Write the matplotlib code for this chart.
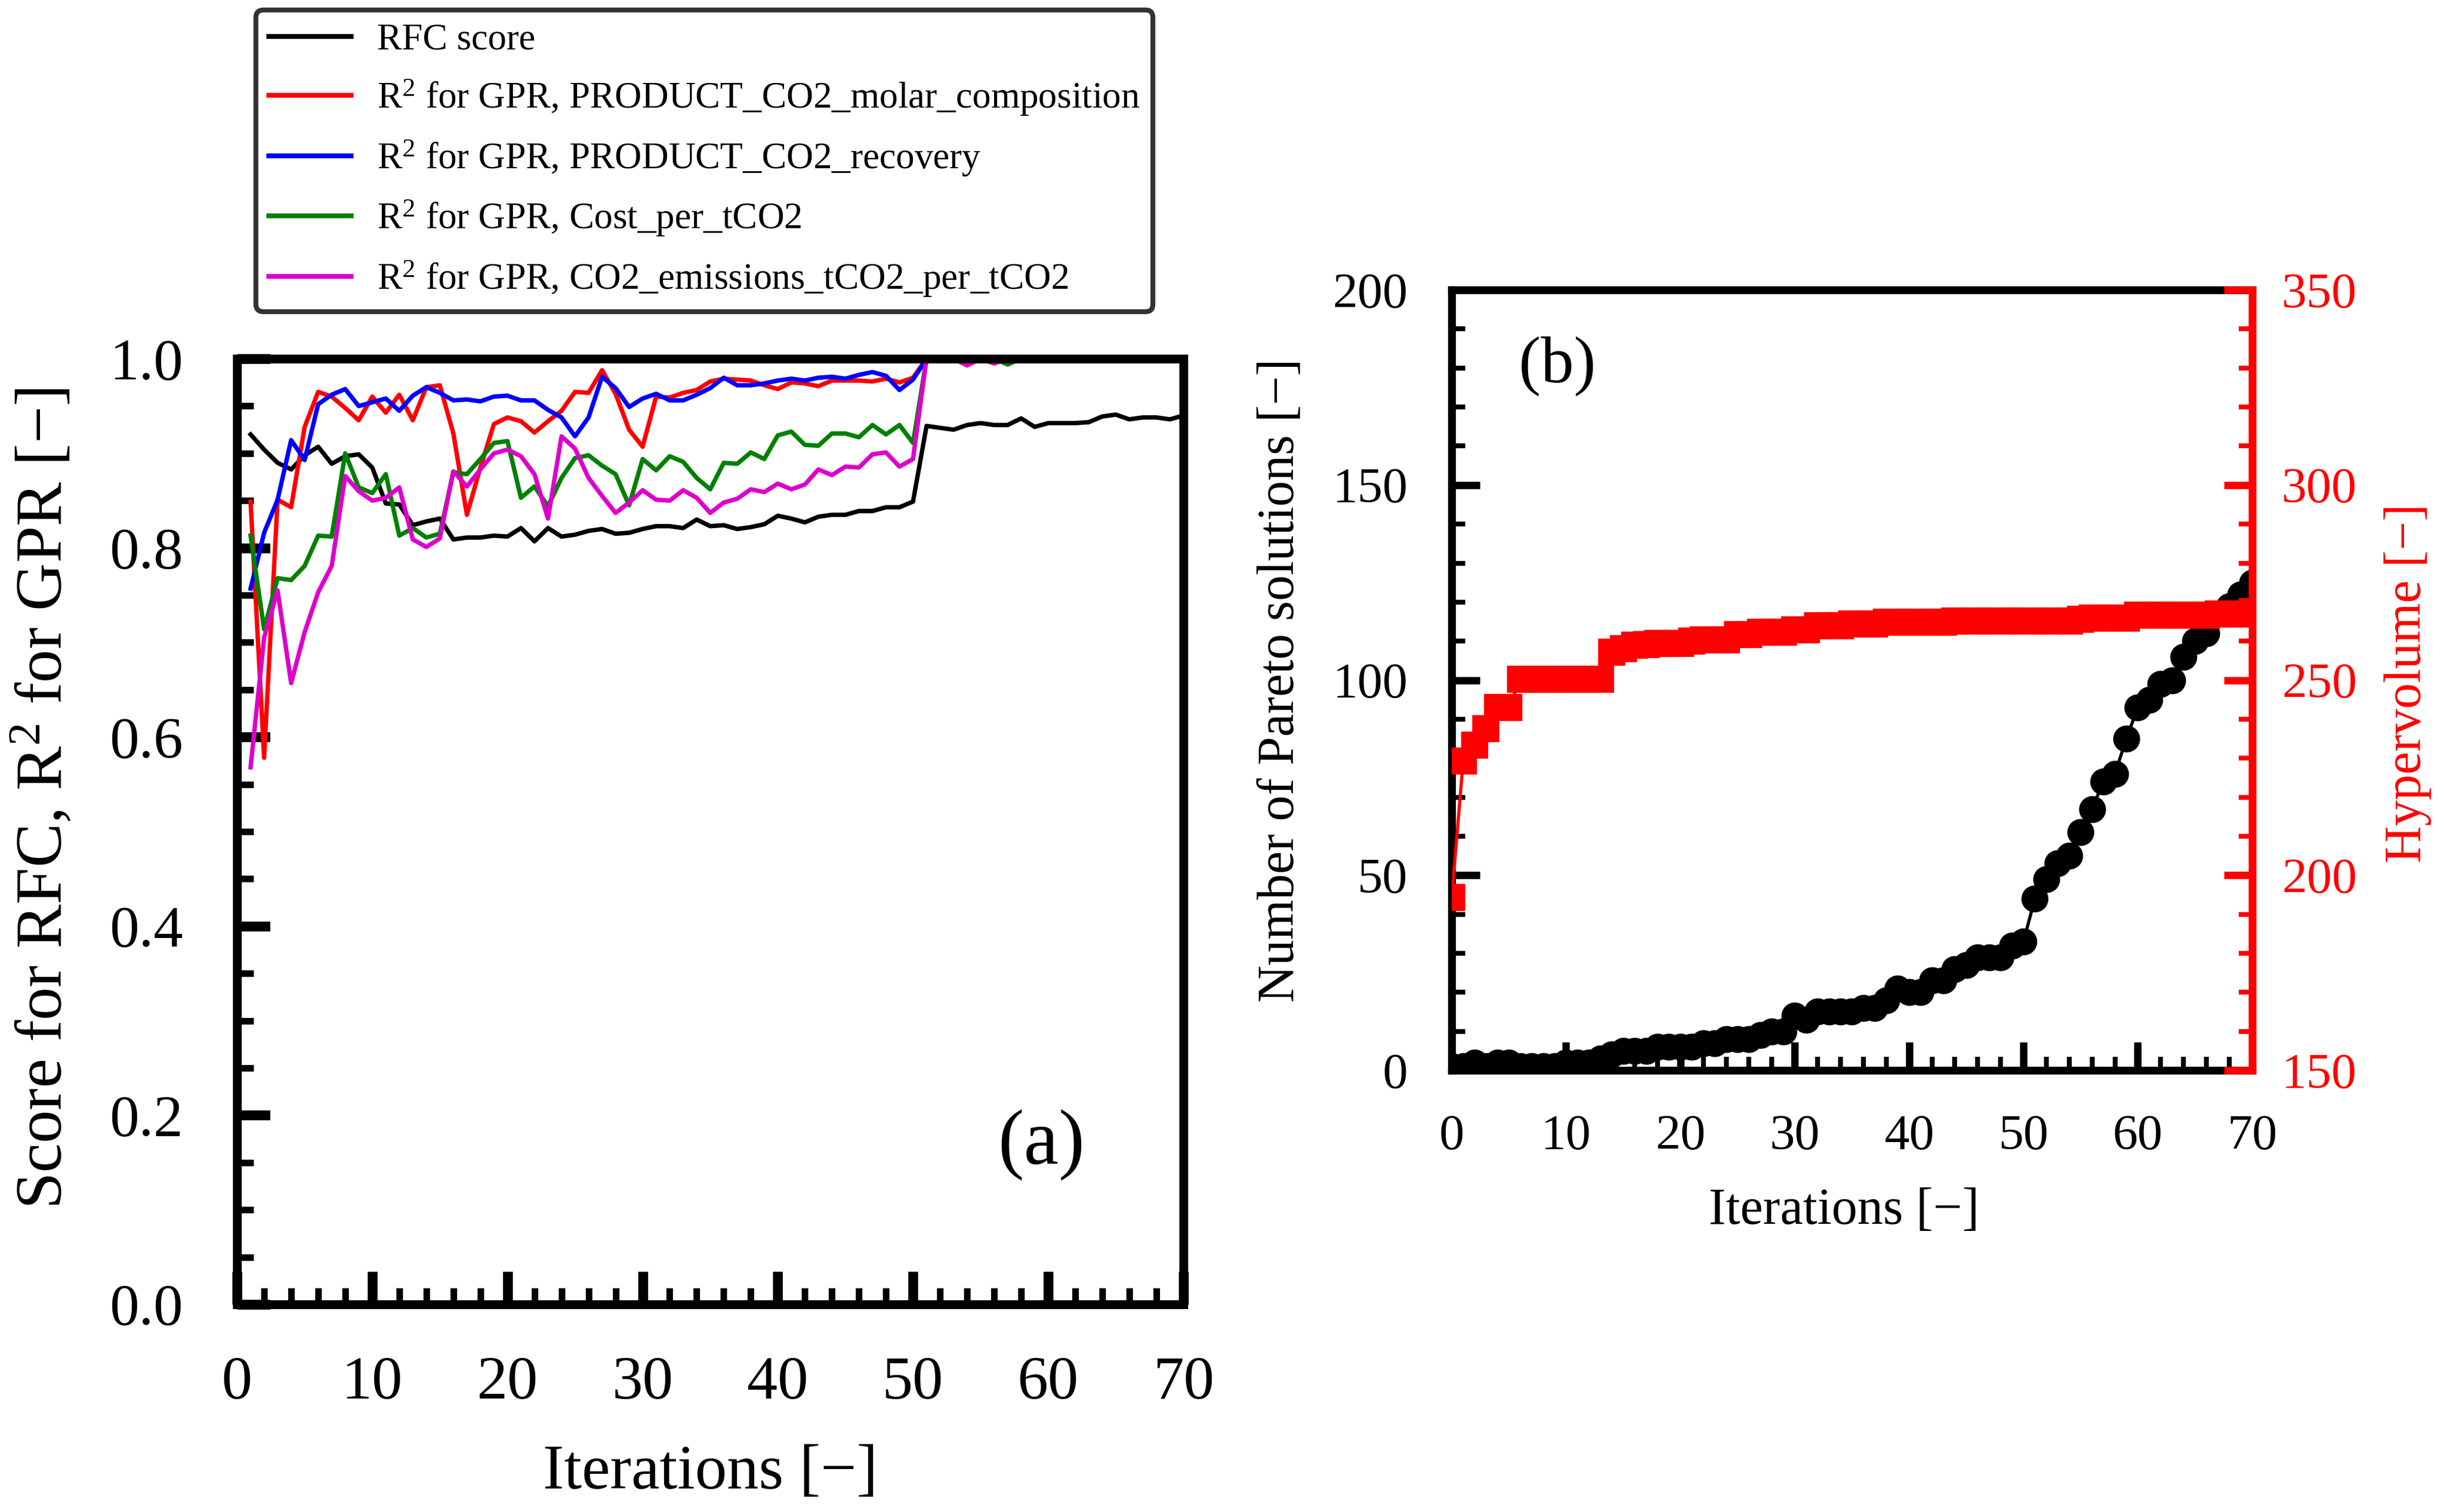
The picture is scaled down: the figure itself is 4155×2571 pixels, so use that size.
import matplotlib
matplotlib.use('Agg')
import matplotlib.pyplot as plt
from matplotlib.ticker import MultipleLocator

plt.rcParams['font.family'] = 'Liberation Serif'
plt.rcParams['mathtext.fontset'] = 'custom'
plt.rcParams['mathtext.rm'] = 'Liberation Serif'
plt.rcParams['mathtext.it'] = 'Liberation Serif:italic'
plt.rcParams['mathtext.default'] = 'regular'

# (a) RFC score and GPR R2 per iteration
iters_a = list(range(1, 71))
rfc_score = [0.920, 0.904, 0.890, 0.883, 0.898, 0.907, 0.889, 0.897, 0.899, 0.885,
             0.847, 0.846, 0.824, 0.828, 0.831, 0.809, 0.811, 0.811, 0.813, 0.812,
             0.821, 0.807, 0.821, 0.812, 0.814, 0.818, 0.820, 0.815, 0.816, 0.820,
             0.823, 0.823, 0.821, 0.830, 0.823, 0.824, 0.820, 0.822, 0.825, 0.834,
             0.831, 0.827, 0.833, 0.835, 0.835, 0.839, 0.839, 0.843, 0.843, 0.849,
             0.929, 0.927, 0.925, 0.930, 0.932, 0.930, 0.930, 0.937, 0.928, 0.932,
             0.932, 0.932, 0.933, 0.939, 0.941, 0.936, 0.938, 0.938, 0.936, 0.940]
r2_molar = [0.849, 0.578, 0.851, 0.843, 0.928, 0.965, 0.960, 0.948, 0.935, 0.960,
            0.943, 0.962, 0.935, 0.970, 0.972, 0.921, 0.835, 0.885, 0.931, 0.938,
            0.934, 0.922, 0.934, 0.945, 0.965, 0.964, 0.988, 0.963, 0.925, 0.907,
            0.960, 0.959, 0.964, 0.967, 0.976, 0.979, 0.978, 0.977, 0.972, 0.968,
            0.975, 0.974, 0.971, 0.977, 0.977, 0.977, 0.976, 0.979, 0.975, 0.980,
            1.000, 1.000, 1.000, 1.000, 1.000, 1.000, 1.000, 1.000, 1.000, 1.000,
            1.000, 1.000, 1.000, 1.000, 1.000, 1.000, 1.000, 1.000, 1.000, 1.000]
r2_recovery = [0.757, 0.816, 0.851, 0.914, 0.893, 0.952, 0.962, 0.968, 0.950, 0.954,
               0.958, 0.945, 0.961, 0.970, 0.964, 0.956, 0.957, 0.955, 0.960, 0.961,
               0.956, 0.956, 0.946, 0.938, 0.918, 0.938, 0.981, 0.969, 0.949, 0.958,
               0.963, 0.956, 0.956, 0.962, 0.969, 0.980, 0.972, 0.972, 0.974, 0.977,
               0.979, 0.977, 0.980, 0.981, 0.979, 0.983, 0.986, 0.982, 0.967, 0.978,
               1.000, 1.000, 1.000, 1.000, 1.000, 1.000, 1.000, 1.000, 1.000, 1.000,
               1.000, 1.000, 1.000, 1.000, 1.000, 1.000, 1.000, 1.000, 1.000, 1.000]
r2_cost = [0.813, 0.714, 0.768, 0.766, 0.781, 0.813, 0.812, 0.900, 0.864, 0.858,
           0.878, 0.813, 0.821, 0.811, 0.815, 0.880, 0.878, 0.894, 0.911, 0.913,
           0.853, 0.865, 0.844, 0.874, 0.895, 0.898, 0.887, 0.878, 0.845, 0.894,
           0.882, 0.897, 0.891, 0.874, 0.862, 0.890, 0.889, 0.901, 0.894, 0.919,
           0.923, 0.909, 0.908, 0.921, 0.921, 0.917, 0.930, 0.920, 0.930, 0.911,
           1.000, 1.000, 1.000, 1.000, 1.000, 1.000, 0.994, 1.000, 1.000, 1.000,
           1.000, 1.000, 1.000, 1.000, 1.000, 1.000, 1.000, 1.000, 1.000, 1.000]
r2_emissions = [0.568, 0.705, 0.755, 0.657, 0.711, 0.753, 0.781, 0.876, 0.860, 0.850,
                0.853, 0.864, 0.809, 0.801, 0.810, 0.881, 0.865, 0.883, 0.900, 0.904,
                0.897, 0.878, 0.831, 0.918, 0.905, 0.874, 0.855, 0.837, 0.848, 0.861,
                0.851, 0.850, 0.861, 0.853, 0.837, 0.848, 0.852, 0.862, 0.859, 0.868,
                0.862, 0.867, 0.883, 0.877, 0.886, 0.885, 0.899, 0.901, 0.886, 0.894,
                1.000, 1.000, 1.000, 0.993, 1.000, 0.995, 1.000, 1.000, 1.000, 1.000,
                1.000, 1.000, 1.000, 1.000, 1.000, 1.000, 1.000, 1.000, 1.000, 1.000]

labels_a = ['RFC score',
            'R$^2$ for GPR, PRODUCT_CO2_molar_composition',
            'R$^2$ for GPR, PRODUCT_CO2_recovery',
            'R$^2$ for GPR, Cost_per_tCO2',
            'R$^2$ for GPR, CO2_emissions_tCO2_per_tCO2']
colors_a = ['black', '#ff0000', '#0000ff', '#008000', '#dd00cc']

# (b) Pareto solutions and hypervolume per iteration
iters_b = list(range(0, 71))
pareto_count = [1, 1, 2, 1, 2, 2, 1, 1, 1, 1,
                2, 2, 2, 3, 4, 5, 5, 5, 6, 6,
                6, 6, 7, 7, 8, 8, 8, 9, 10, 10,
                14, 13, 15, 15, 15, 15, 16, 16, 18, 21,
                20, 20, 23, 23, 26, 27, 29, 29, 29, 32,
                33, 44, 49, 53, 55, 61, 67, 74, 76, 85,
                93, 95, 99, 100, 106, 110, 112, 117, 119, 122,
                125]
hypervolume = [194.3, 229.3, 233.3, 237.5, 243.0, 243.0, 250.3, 250.3, 250.3, 250.3,
               250.3, 250.3, 250.3, 250.3, 257.2, 258.1, 259.0, 259.2, 259.5, 259.5,
               259.5, 260.0, 260.4, 260.4, 260.4, 261.7, 261.7, 262.3, 262.3, 262.3,
               262.9, 262.9, 264.0, 264.0, 264.0, 264.4, 264.4, 264.4, 264.9, 264.9,
               264.9, 264.9, 264.9, 264.9, 265.2, 265.2, 265.2, 265.2, 265.2, 265.2,
               265.2, 265.2, 265.2, 265.2, 265.2, 265.6, 265.85, 265.85, 265.85, 265.85,
               266.7, 266.7, 266.7, 266.7, 266.7, 266.7, 266.7, 267.0, 267.0, 267.0,
               267.6]

fig = plt.figure(figsize=(13.85, 8.57), dpi=300)

# ---- left panel
ax1 = fig.add_axes([0.0970, 0.1373, 0.3872, 0.6254])
series_a = [rfc_score, r2_molar, r2_recovery, r2_cost, r2_emissions]
for vals, lab, col in zip(series_a, labels_a, colors_a):
    ax1.plot(iters_a, vals, color=col, lw=1.8, label=lab)

ax1.set_xlim(0, 70)
ax1.set_ylim(0, 1)
ax1.xaxis.set_major_locator(MultipleLocator(10))
ax1.xaxis.set_minor_locator(MultipleLocator(2))
ax1.yaxis.set_major_locator(MultipleLocator(0.2))
ax1.yaxis.set_minor_locator(MultipleLocator(0.05))
ax1.tick_params(which='major', direction='in', length=13.5, width=4)
ax1.tick_params(which='minor', direction='in', length=6.7, width=2.7)
ax1.tick_params(axis='x', labelsize=25, pad=21)
ax1.tick_params(axis='y', labelsize=24, pad=22)
for sp in ax1.spines.values():
    sp.set_linewidth(3.6)

ax1.set_xlabel('Iterations [−]', fontsize=26)
ax1.set_ylabel('Score for RFC, R$^2$ for GPR [−]', fontsize=27)
ax1.xaxis.set_label_coords(0.5, -0.148)
ax1.yaxis.set_label_coords(-0.170, 0.535)
ax1.text(0.85, 0.168, '(a)', transform=ax1.transAxes, ha='center', va='center', fontsize=32)

leg = ax1.legend(loc='lower left', bbox_to_anchor=(0.0199, 1.0498), borderaxespad=0,
                 fontsize=15.2, fancybox=True, framealpha=1, edgecolor='#333333',
                 handlelength=2.2, handletextpad=0.7, borderpad=0.35, labelspacing=0.55)
leg.get_frame().set_linewidth(2.0)
for ln in leg.get_lines():
    ln.set_linewidth(2.0)

# ---- right panel
ax2 = fig.add_axes([0.5940, 0.2921, 0.3275, 0.5161])
ax2.plot(iters_b, pareto_count, 'k-o', ms=10, lw=1.3)
ax3 = ax2.twinx()
ax3.plot(iters_b, hypervolume, 'r-s', ms=10, lw=1.3)

ax2.set_xlim(0, 70)
ax2.set_ylim(0, 200)
ax3.set_ylim(150, 350)
ax2.xaxis.set_major_locator(MultipleLocator(10))
ax2.xaxis.set_minor_locator(MultipleLocator(2))
ax2.yaxis.set_major_locator(MultipleLocator(50))
ax2.yaxis.set_minor_locator(MultipleLocator(10))
ax3.yaxis.set_major_locator(MultipleLocator(50))
ax3.yaxis.set_minor_locator(MultipleLocator(10))

ax2.tick_params(which='major', direction='in', length=11.5, width=3, labelsize=20.5, pad=18)
ax2.tick_params(which='minor', direction='in', length=5.5, width=2)
ax3.tick_params(axis='y', which='major', direction='in', length=11.5, width=3,
                labelsize=20.5, pad=12, colors='red')
ax3.tick_params(axis='y', which='minor', direction='in', length=5.5, width=2, colors='red')

for sp in ax2.spines.values():
    sp.set_linewidth(3.2)
ax2.spines['right'].set_visible(False)
for name in ['left', 'top', 'bottom']:
    ax3.spines[name].set_visible(False)
ax3.spines['right'].set_linewidth(3.2)
ax3.spines['right'].set_color('red')

ax2.set_xlabel('Iterations [−]', fontsize=21)
ax2.set_ylabel('Number of Pareto solutions [−]', fontsize=21)
ax3.set_ylabel('Hypervolume [−]', fontsize=21, color='red')
ax2.xaxis.set_label_coords(0.49, -0.150)
ax2.yaxis.set_label_coords(-0.184, 0.5)
ax3.yaxis.set_label_coords(1.165, 0.496)
ax2.text(0.132, 0.903, '(b)', transform=ax2.transAxes, ha='center', va='center', fontsize=27)

fig.savefig('out.png', dpi=300)
